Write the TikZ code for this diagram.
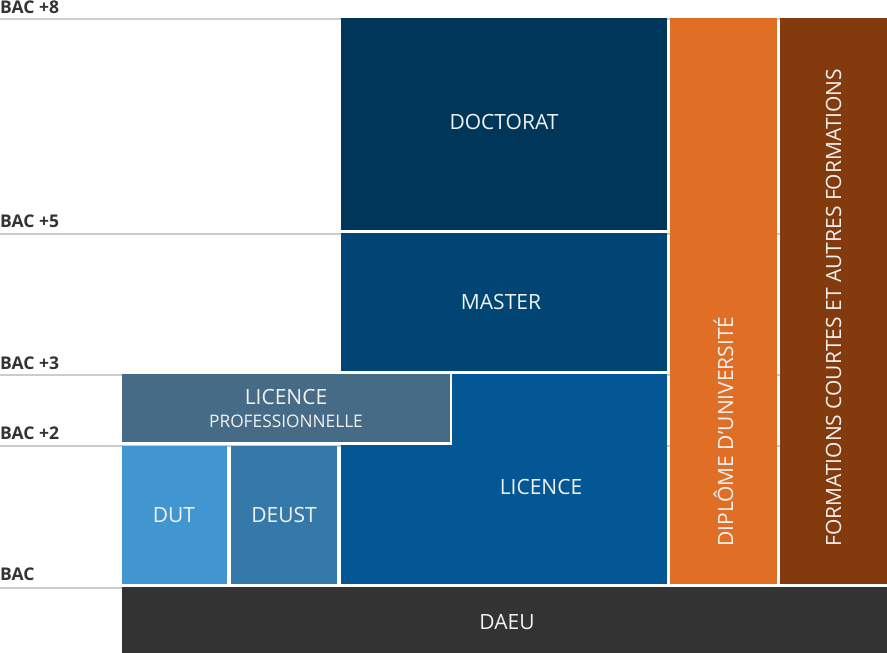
\documentclass[tikz,border=0pt]{standalone}
\usepackage{fontspec}
\setmainfont{Open Sans}
\definecolor{cDoc}{HTML}{00365A}
\definecolor{cMas}{HTML}{004574}
\definecolor{cLic}{HTML}{025794}
\definecolor{cPro}{HTML}{466B87}
\definecolor{cDut}{HTML}{4196D1}
\definecolor{cDeu}{HTML}{3579AA}
\definecolor{cOra}{HTML}{E06F25}
\definecolor{cBro}{HTML}{833A0D}
\definecolor{cDae}{HTML}{333333}
\definecolor{cTxt}{HTML}{F2F2F2}
\definecolor{cLbl}{HTML}{333333}
\definecolor{cRule}{HTML}{CCCCCC}
\tikzset{
  rulel/.style={draw=cRule, line width=2pt},
  ttxt/.style={text=cTxt, font=\fontsize{21}{25}\selectfont, inner sep=0pt},
  stxt/.style={text=cTxt, font=\fontsize{17.3}{20}\selectfont, inner sep=0pt},
  vtxt/.style={text=cTxt, font=\fontsize{21}{25}\selectfont, inner sep=0pt, rotate=90, anchor=west},
  lvl/.style={text=cLbl, font=\bfseries\fontsize{17.5}{20}\selectfont, inner sep=0pt, anchor=base west},
}
\begin{document}
\begin{tikzpicture}[x=1pt,y=-1pt]
\useasboundingbox (0,0) rectangle (887,653);
% level rules
\foreach \yy/\nm in {18.7/r8,233.5/r5,374.5/r3,446/r2,587.5/r0}{
  \coordinate (\nm L) at (0,\yy); \coordinate (\nm R) at (887,\yy);
  \draw[rulel] (\nm L) -- (\nm R);
}
% level labels
\node[lvl] (l8) at (0,13.3) {BAC +8};
\node[lvl] (l5) at (0,227.5) {BAC +5};
\node[lvl] (l3) at (0,369) {BAC +3};
\node[lvl] (l2) at (0,439) {BAC +2};
\node[lvl] (l0) at (0,580.5) {BAC};
% blocks
\fill[cDoc] (341,18) rectangle (667,229.5);
\fill[cMas] (341,233) rectangle (667,371);
\fill[cLic] (341,374) rectangle (667,584);
\fill[white] (122,374) rectangle (452,445);
\fill[cPro] (122,374) rectangle (449.5,442);
\fill[cDut] (122,446) rectangle (227,584);
\fill[cDeu] (231,446) rectangle (337,584);
\fill[cOra] (670,18) rectangle (777,584);
\fill[cBro] (780,18) rectangle (887,584);
\fill[cDae] (122,587) rectangle (887,653);
% texts
\node[ttxt] (doc) at (504,122) {DOCTORAT};
\node[ttxt] (mas) at (501,302) {MASTER};
\node[ttxt] (lic) at (541,487) {LICENCE};
\node[ttxt] (pro) at (286,397) {LICENCE};
\node[stxt] (pro2) at (286,421) {PROFESSIONNELLE};
\node[ttxt] (dut) at (174,515) {DUT};
\node[ttxt] (deu) at (284,515) {DEUST};
\node[ttxt] (dae) at (507,622) {DAEU};
\node[vtxt] (du) at (723.5,547) {DIPLÔME D’UNIVERSITÉ};
\node[vtxt] (fc) at (833.5,547) {FORMATIONS COURTES ET AUTRES FORMATIONS};
\end{tikzpicture}
\end{document}
